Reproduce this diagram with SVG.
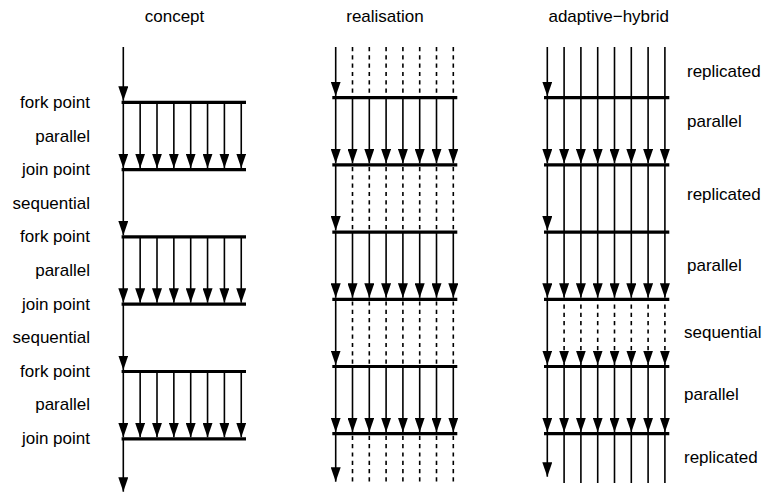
<svg xmlns="http://www.w3.org/2000/svg" width="764" height="493" viewBox="0 0 764 493">
<defs>
<style>
text{font-family:"Liberation Sans",Arial,Helvetica,sans-serif;font-size:17px;fill:#000}
.l{text-anchor:end}
.h{text-anchor:middle}
.bar{stroke:#000;stroke-width:3.2;fill:none}
.s{stroke:#000;stroke-width:1.6;fill:none}
.d{stroke:#000;stroke-width:1.6;fill:none;stroke-dasharray:4.2 4.1}
.a{marker-end:url(#ah)}
</style>
<marker id="ah" viewBox="0 0 14.5 10" refX="14.5" refY="5" markerWidth="14.5" markerHeight="10" markerUnits="userSpaceOnUse" orient="auto">
<path d="M0,0 L14.5,5 L0,10 z" fill="#000"/>
</marker>
</defs>
<rect width="764" height="493" fill="#fff"/>

<g id="headers">
<text class="h" x="174.5" y="21.5">concept</text>
<text class="h" x="385" y="21.5">realisation</text>
<text class="h" x="608.7" y="21.5">adaptive−hybrid</text>
</g>

<g id="labels-concept">
<text class="l" x="90" y="108">fork point</text>
<text class="l" x="90" y="141.6">parallel</text>
<text class="l" x="90" y="175.2">join point</text>
<text class="l" x="90" y="208.8">sequential</text>
<text class="l" x="90" y="242.4">fork point</text>
<text class="l" x="90" y="276">parallel</text>
<text class="l" x="90" y="309.6">join point</text>
<text class="l" x="90" y="343.2">sequential</text>
<text class="l" x="90" y="376.8">fork point</text>
<text class="l" x="90" y="410.4">parallel</text>
<text class="l" x="90" y="444">join point</text>
</g>

<g id="labels-hybrid">
<text x="687" y="77">replicated</text>
<text x="687" y="127">parallel</text>
<text x="687" y="200">replicated</text>
<text x="687" y="271">parallel</text>
<text x="684" y="338">sequential</text>
<text x="684" y="400">parallel</text>
<text x="684" y="463">replicated</text>
</g>

<g id="concept-bars">
<g id="c-fork1"><line class="bar" x1="121.6" y1="102.3" x2="246" y2="102.3"/></g>
<g id="c-join1"><line class="bar" x1="121.6" y1="169.6" x2="246" y2="169.6"/></g>
<g id="c-fork2"><line class="bar" x1="121.6" y1="236.9" x2="246" y2="236.9"/></g>
<g id="c-join2"><line class="bar" x1="121.6" y1="304.2" x2="246" y2="304.2"/></g>
<g id="c-fork3"><line class="bar" x1="121.6" y1="371.5" x2="246" y2="371.5"/></g>
<g id="c-join3"><line class="bar" x1="121.6" y1="438.8" x2="246" y2="438.8"/></g>
</g>

<g id="realisation-bars">
<g id="r-bar1"><line class="bar" x1="332.3" y1="97.7" x2="457.3" y2="97.7"/></g>
<g id="r-bar2"><line class="bar" x1="332.3" y1="164.9" x2="457.3" y2="164.9"/></g>
<g id="r-bar3"><line class="bar" x1="332.3" y1="232.1" x2="457.3" y2="232.1"/></g>
<g id="r-bar4"><line class="bar" x1="332.3" y1="299.3" x2="457.3" y2="299.3"/></g>
<g id="r-bar5"><line class="bar" x1="332.3" y1="366.5" x2="457.3" y2="366.5"/></g>
<g id="r-bar6"><line class="bar" x1="332.3" y1="433.7" x2="457.3" y2="433.7"/></g>
</g>

<g id="hybrid-bars">
<g id="h-bar1"><line class="bar" x1="544" y1="97.7" x2="669.3" y2="97.7"/></g>
<g id="h-bar2"><line class="bar" x1="544" y1="164.9" x2="669.3" y2="164.9"/></g>
<g id="h-bar3"><line class="bar" x1="544" y1="232.1" x2="669.3" y2="232.1"/></g>
<g id="h-bar4"><line class="bar" x1="544" y1="299.3" x2="669.3" y2="299.3"/></g>
<g id="h-bar5"><line class="bar" x1="544" y1="366.5" x2="669.3" y2="366.5"/></g>
<g id="h-bar6"><line class="bar" x1="544" y1="433.7" x2="669.3" y2="433.7"/></g>
</g>

<g id="connectors">
<!-- concept -->
<line class="s a" x1="123.3" y1="47" x2="123.3" y2="100.8"/>
<g id="c-par1">
<line class="s a" x1="123.3" y1="102.3" x2="123.3" y2="168.1"/>
<line class="s a" x1="140.15" y1="102.3" x2="140.15" y2="168.1"/>
<line class="s a" x1="157" y1="102.3" x2="157" y2="168.1"/>
<line class="s a" x1="173.85" y1="102.3" x2="173.85" y2="168.1"/>
<line class="s a" x1="190.7" y1="102.3" x2="190.7" y2="168.1"/>
<line class="s a" x1="207.55" y1="102.3" x2="207.55" y2="168.1"/>
<line class="s a" x1="224.4" y1="102.3" x2="224.4" y2="168.1"/>
<line class="s a" x1="241.25" y1="102.3" x2="241.25" y2="168.1"/>
</g>
<line class="s a" x1="123.3" y1="169.6" x2="123.3" y2="235.4"/>
<g id="c-par2">
<line class="s a" x1="123.3" y1="236.9" x2="123.3" y2="302.7"/>
<line class="s a" x1="140.15" y1="236.9" x2="140.15" y2="302.7"/>
<line class="s a" x1="157" y1="236.9" x2="157" y2="302.7"/>
<line class="s a" x1="173.85" y1="236.9" x2="173.85" y2="302.7"/>
<line class="s a" x1="190.7" y1="236.9" x2="190.7" y2="302.7"/>
<line class="s a" x1="207.55" y1="236.9" x2="207.55" y2="302.7"/>
<line class="s a" x1="224.4" y1="236.9" x2="224.4" y2="302.7"/>
<line class="s a" x1="241.25" y1="236.9" x2="241.25" y2="302.7"/>
</g>
<line class="s a" x1="123.3" y1="304.2" x2="123.3" y2="370"/>
<g id="c-par3">
<line class="s a" x1="123.3" y1="371.5" x2="123.3" y2="437.3"/>
<line class="s a" x1="140.15" y1="371.5" x2="140.15" y2="437.3"/>
<line class="s a" x1="157" y1="371.5" x2="157" y2="437.3"/>
<line class="s a" x1="173.85" y1="371.5" x2="173.85" y2="437.3"/>
<line class="s a" x1="190.7" y1="371.5" x2="190.7" y2="437.3"/>
<line class="s a" x1="207.55" y1="371.5" x2="207.55" y2="437.3"/>
<line class="s a" x1="224.4" y1="371.5" x2="224.4" y2="437.3"/>
<line class="s a" x1="241.25" y1="371.5" x2="241.25" y2="437.3"/>
</g>
<line class="s a" x1="123.3" y1="438.8" x2="123.3" y2="491.7"/>

<!-- realisation -->
<g id="r-top">
<line class="s a" x1="335.7" y1="47" x2="335.7" y2="96.2"/>
<line class="d" x1="352.5" y1="47" x2="352.5" y2="96"/>
<line class="d" x1="369.3" y1="47" x2="369.3" y2="96"/>
<line class="d" x1="386.1" y1="47" x2="386.1" y2="96"/>
<line class="d" x1="402.9" y1="47" x2="402.9" y2="96"/>
<line class="d" x1="419.7" y1="47" x2="419.7" y2="96"/>
<line class="d" x1="436.5" y1="47" x2="436.5" y2="96"/>
<line class="d" x1="453.3" y1="47" x2="453.3" y2="96"/>
</g>
<g id="r-par1">
<line class="s a" x1="335.7" y1="97.7" x2="335.7" y2="163.4"/>
<line class="s a" x1="352.5" y1="97.7" x2="352.5" y2="163.4"/>
<line class="s a" x1="369.3" y1="97.7" x2="369.3" y2="163.4"/>
<line class="s a" x1="386.1" y1="97.7" x2="386.1" y2="163.4"/>
<line class="s a" x1="402.9" y1="97.7" x2="402.9" y2="163.4"/>
<line class="s a" x1="419.7" y1="97.7" x2="419.7" y2="163.4"/>
<line class="s a" x1="436.5" y1="97.7" x2="436.5" y2="163.4"/>
<line class="s a" x1="453.3" y1="97.7" x2="453.3" y2="163.4"/>
</g>
<g id="r-seq1">
<line class="s a" x1="335.7" y1="164.9" x2="335.7" y2="230.6"/>
<line class="d" x1="352.5" y1="167" x2="352.5" y2="230.4"/>
<line class="d" x1="369.3" y1="167" x2="369.3" y2="230.4"/>
<line class="d" x1="386.1" y1="167" x2="386.1" y2="230.4"/>
<line class="d" x1="402.9" y1="167" x2="402.9" y2="230.4"/>
<line class="d" x1="419.7" y1="167" x2="419.7" y2="230.4"/>
<line class="d" x1="436.5" y1="167" x2="436.5" y2="230.4"/>
<line class="d" x1="453.3" y1="167" x2="453.3" y2="230.4"/>
</g>
<g id="r-par2">
<line class="s a" x1="335.7" y1="232.1" x2="335.7" y2="297.8"/>
<line class="s a" x1="352.5" y1="232.1" x2="352.5" y2="297.8"/>
<line class="s a" x1="369.3" y1="232.1" x2="369.3" y2="297.8"/>
<line class="s a" x1="386.1" y1="232.1" x2="386.1" y2="297.8"/>
<line class="s a" x1="402.9" y1="232.1" x2="402.9" y2="297.8"/>
<line class="s a" x1="419.7" y1="232.1" x2="419.7" y2="297.8"/>
<line class="s a" x1="436.5" y1="232.1" x2="436.5" y2="297.8"/>
<line class="s a" x1="453.3" y1="232.1" x2="453.3" y2="297.8"/>
</g>
<g id="r-seq2">
<line class="s a" x1="335.7" y1="299.3" x2="335.7" y2="365"/>
<line class="d" x1="352.5" y1="301.4" x2="352.5" y2="364.8"/>
<line class="d" x1="369.3" y1="301.4" x2="369.3" y2="364.8"/>
<line class="d" x1="386.1" y1="301.4" x2="386.1" y2="364.8"/>
<line class="d" x1="402.9" y1="301.4" x2="402.9" y2="364.8"/>
<line class="d" x1="419.7" y1="301.4" x2="419.7" y2="364.8"/>
<line class="d" x1="436.5" y1="301.4" x2="436.5" y2="364.8"/>
<line class="d" x1="453.3" y1="301.4" x2="453.3" y2="364.8"/>
</g>
<g id="r-par3">
<line class="s a" x1="335.7" y1="366.5" x2="335.7" y2="432.2"/>
<line class="s a" x1="352.5" y1="366.5" x2="352.5" y2="432.2"/>
<line class="s a" x1="369.3" y1="366.5" x2="369.3" y2="432.2"/>
<line class="s a" x1="386.1" y1="366.5" x2="386.1" y2="432.2"/>
<line class="s a" x1="402.9" y1="366.5" x2="402.9" y2="432.2"/>
<line class="s a" x1="419.7" y1="366.5" x2="419.7" y2="432.2"/>
<line class="s a" x1="436.5" y1="366.5" x2="436.5" y2="432.2"/>
<line class="s a" x1="453.3" y1="366.5" x2="453.3" y2="432.2"/>
</g>
<g id="r-bottom">
<line class="s a" x1="335.7" y1="433.7" x2="335.7" y2="481.7"/>
<line class="d" x1="352.5" y1="435.8" x2="352.5" y2="483"/>
<line class="d" x1="369.3" y1="435.8" x2="369.3" y2="483"/>
<line class="d" x1="386.1" y1="435.8" x2="386.1" y2="483"/>
<line class="d" x1="402.9" y1="435.8" x2="402.9" y2="483"/>
<line class="d" x1="419.7" y1="435.8" x2="419.7" y2="483"/>
<line class="d" x1="436.5" y1="435.8" x2="436.5" y2="483"/>
<line class="d" x1="453.3" y1="435.8" x2="453.3" y2="483"/>
</g>

<!-- adaptive-hybrid -->
<g id="h-rep1">
<line class="s a" x1="547.3" y1="47" x2="547.3" y2="96.2"/>
<line class="s" x1="564.1" y1="47" x2="564.1" y2="97.7"/>
<line class="s" x1="580.9" y1="47" x2="580.9" y2="97.7"/>
<line class="s" x1="597.7" y1="47" x2="597.7" y2="97.7"/>
<line class="s" x1="614.5" y1="47" x2="614.5" y2="97.7"/>
<line class="s" x1="631.3" y1="47" x2="631.3" y2="97.7"/>
<line class="s" x1="648.1" y1="47" x2="648.1" y2="97.7"/>
<line class="s" x1="664.9" y1="47" x2="664.9" y2="97.7"/>
</g>
<g id="h-par1">
<line class="s a" x1="547.3" y1="97.7" x2="547.3" y2="163.4"/>
<line class="s a" x1="564.1" y1="97.7" x2="564.1" y2="163.4"/>
<line class="s a" x1="580.9" y1="97.7" x2="580.9" y2="163.4"/>
<line class="s a" x1="597.7" y1="97.7" x2="597.7" y2="163.4"/>
<line class="s a" x1="614.5" y1="97.7" x2="614.5" y2="163.4"/>
<line class="s a" x1="631.3" y1="97.7" x2="631.3" y2="163.4"/>
<line class="s a" x1="648.1" y1="97.7" x2="648.1" y2="163.4"/>
<line class="s a" x1="664.9" y1="97.7" x2="664.9" y2="163.4"/>
</g>
<g id="h-rep2">
<line class="s a" x1="547.3" y1="164.9" x2="547.3" y2="230.6"/>
<line class="s" x1="564.1" y1="164.9" x2="564.1" y2="232.1"/>
<line class="s" x1="580.9" y1="164.9" x2="580.9" y2="232.1"/>
<line class="s" x1="597.7" y1="164.9" x2="597.7" y2="232.1"/>
<line class="s" x1="614.5" y1="164.9" x2="614.5" y2="232.1"/>
<line class="s" x1="631.3" y1="164.9" x2="631.3" y2="232.1"/>
<line class="s" x1="648.1" y1="164.9" x2="648.1" y2="232.1"/>
<line class="s" x1="664.9" y1="164.9" x2="664.9" y2="232.1"/>
</g>
<g id="h-par2">
<line class="s a" x1="547.3" y1="232.1" x2="547.3" y2="297.8"/>
<line class="s a" x1="564.1" y1="232.1" x2="564.1" y2="297.8"/>
<line class="s a" x1="580.9" y1="232.1" x2="580.9" y2="297.8"/>
<line class="s a" x1="597.7" y1="232.1" x2="597.7" y2="297.8"/>
<line class="s a" x1="614.5" y1="232.1" x2="614.5" y2="297.8"/>
<line class="s a" x1="631.3" y1="232.1" x2="631.3" y2="297.8"/>
<line class="s a" x1="648.1" y1="232.1" x2="648.1" y2="297.8"/>
<line class="s a" x1="664.9" y1="232.1" x2="664.9" y2="297.8"/>
</g>
<g id="h-seq">
<line class="s a" x1="547.3" y1="299.3" x2="547.3" y2="365"/>
<line class="d a" x1="564.1" y1="304.5" x2="564.1" y2="365"/>
<line class="d a" x1="580.9" y1="304.5" x2="580.9" y2="365"/>
<line class="d a" x1="597.7" y1="304.5" x2="597.7" y2="365"/>
<line class="d a" x1="614.5" y1="304.5" x2="614.5" y2="365"/>
<line class="d a" x1="631.3" y1="304.5" x2="631.3" y2="365"/>
<line class="d a" x1="648.1" y1="304.5" x2="648.1" y2="365"/>
<line class="d a" x1="664.9" y1="304.5" x2="664.9" y2="365"/>
</g>
<g id="h-par3">
<line class="s a" x1="547.3" y1="366.5" x2="547.3" y2="432.2"/>
<line class="s a" x1="564.1" y1="366.5" x2="564.1" y2="432.2"/>
<line class="s a" x1="580.9" y1="366.5" x2="580.9" y2="432.2"/>
<line class="s a" x1="597.7" y1="366.5" x2="597.7" y2="432.2"/>
<line class="s a" x1="614.5" y1="366.5" x2="614.5" y2="432.2"/>
<line class="s a" x1="631.3" y1="366.5" x2="631.3" y2="432.2"/>
<line class="s a" x1="648.1" y1="366.5" x2="648.1" y2="432.2"/>
<line class="s a" x1="664.9" y1="366.5" x2="664.9" y2="432.2"/>
</g>
<g id="h-rep3">
<line class="s a" x1="547.3" y1="433.7" x2="547.3" y2="476.7"/>
<line class="s" x1="564.1" y1="433.7" x2="564.1" y2="483"/>
<line class="s" x1="580.9" y1="433.7" x2="580.9" y2="483"/>
<line class="s" x1="597.7" y1="433.7" x2="597.7" y2="483"/>
<line class="s" x1="614.5" y1="433.7" x2="614.5" y2="483"/>
<line class="s" x1="631.3" y1="433.7" x2="631.3" y2="483"/>
<line class="s" x1="648.1" y1="433.7" x2="648.1" y2="483"/>
<line class="s" x1="664.9" y1="433.7" x2="664.9" y2="483"/>
</g>
</g>
</svg>
